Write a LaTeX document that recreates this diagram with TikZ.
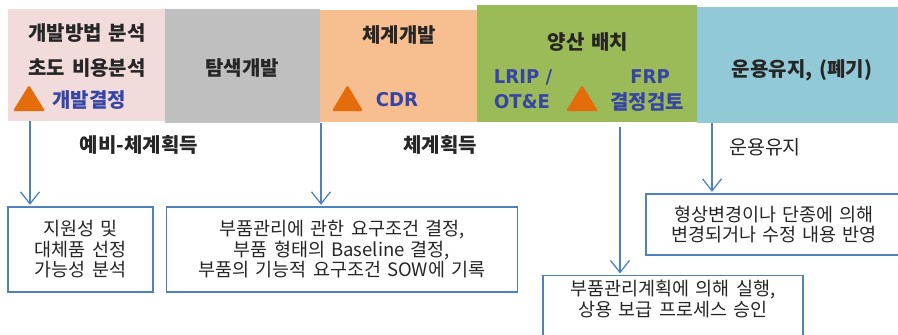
\documentclass[tikz,border=0pt]{standalone}
\usepackage{fontspec}
\setmainfont{Noto Sans CJK KR}[WordSpace=1.5]
\newfontfamily\latbold{DejaVu Sans}[FakeStretch=0.95]
\usetikzlibrary{arrows.meta}
\definecolor{cpink}{HTML}{F2DCDB}
\definecolor{cgray}{HTML}{BFBFBF}
\definecolor{corange}{HTML}{F7BE8F}
\definecolor{cgreen}{HTML}{9BBB59}
\definecolor{cblue}{HTML}{92C9D6}
\definecolor{cline}{HTML}{4F81BD}
\definecolor{ctri}{HTML}{E46C0A}
\definecolor{cbtxt}{HTML}{3645A5}
\definecolor{ctxt}{HTML}{262626}
\begin{document}
\begin{tikzpicture}[x=1pt,y=-1pt,
  band/.style={draw=none,anchor=north west,inner sep=0pt},
  head/.style={font=\fontsize{20}{22}\selectfont\bfseries,text=ctxt,inner sep=0pt},
  blab/.style={font=\fontsize{20}{22}\selectfont\bfseries,text=cbtxt,inner sep=0pt},
  llab/.style={font=\fontsize{19}{22}\selectfont\latbold\bfseries,text=cbtxt,inner sep=0pt},
  lab/.style={font=\fontsize{19.5}{22}\selectfont,text=ctxt,inner sep=0pt},
  boxtext/.style={font=\fontsize{18.5}{20.5}\selectfont,text=ctxt,align=center,inner sep=0pt},
  box/.style={draw=cline,line width=1.3pt,fill=white,inner sep=0pt},
  conn/.style={draw=cline,line width=1.3pt,-{Straight Barb[length=12pt,width=19pt,line width=1.3pt]},shorten >=1.5pt},
  tri/.style={fill=ctri,rounded corners=1.5pt}]
\useasboundingbox (0,0) rectangle (898,335);
% phase bands
\node[band,fill=cpink,minimum width=157pt,minimum height=112pt] (ph1) at (8,9) {};
\node[band,fill=cgray,minimum width=155pt,minimum height=114pt] (ph2) at (165,9) {};
\node[band,fill=corange,minimum width=157pt,minimum height=112pt] (ph3) at (320,10) {};
\node[band,fill=cgreen,minimum width=220pt,minimum height=117pt] (ph4) at (477,5) {};
\node[band,fill=cblue,minimum width=201pt,minimum height=116pt] (ph5) at (697,7) {};
% phase texts
\node[head] (t11) at (87,33) {개발방법 분석};
\node[head] (t12) at (87,68) {초도 비용분석};
\fill[tri] (13,111) -- (29,85) -- (45,111) -- cycle;
\node[blab] (t13) at (89,100) {개발결정};
\node[head] (t2) at (242,68) {탐색개발};
\node[head] (t31) at (399,35) {체계개발};
\fill[tri] (332,111) -- (347.5,85) -- (363,111) -- cycle;
\node[llab] (t32) at (397,100) {CDR};
\node[head] (t41) at (588,42) {양산 배치};
\node[llab] (t42) at (523,77) {LRIP /};
\node[llab] (t43) at (522,102) {OT\&E};
\fill[tri] (566,111) -- (582,85) -- (598,111) -- cycle;
\node[llab] (t44) at (650,77) {FRP};
\node[blab] (t45) at (647,102) {결정검토};
\node[head] (t5) at (802,70) {운용유지, (폐기)};
% labels
\node[lab,font=\fontsize{20}{22}\selectfont\bfseries] (l1) at (139,145) {예비-체계획득};
\node[lab,font=\fontsize{20}{22}\selectfont\bfseries] (l2) at (440,145) {체계획득};
\node[lab] (l3) at (765,147) {운용유지};
% boxes
\node[box,minimum width=145pt,minimum height=85pt,boxtext] (b1) at (80.5,249.5) {지원성 및\\대체품 선정\\가능성 분석};
\node[box,minimum width=351pt,minimum height=85pt,boxtext] (b2) at (342,249.5) {부품관리에 관한 요구조건 결정,\\부품 형태의 Baseline 결정,\\부품의 기능적 요구조건 SOW에 기록};
\node[box,anchor=north,minimum width=260pt,minimum height=64pt] (b3) at (673,275) {};
\node[boxtext] (t3) at (673,299) {부품관리계획에 의해 실행,\\상용 보급 프로세스 승인};
\node[box,minimum width=256pt,minimum height=61pt,boxtext] (b4) at (774,224.5) {형상변경이나 단종에 의해\\변경되거나 수정 내용 반영};
% connectors
\coordinate (a1) at (30,121);
\coordinate (a2) at (321,123);
\coordinate (a3) at (620,127);
\coordinate (a4) at (712,123);
\draw[conn] (a1) -- (a1 |- b1.north);
\draw[conn] (a2) -- (a2 |- b2.north);
\draw[conn] (a3) -- (a3 |- b3.north);
\draw[conn] (a4) -- (a4 |- b4.north);
\end{tikzpicture}
\end{document}
